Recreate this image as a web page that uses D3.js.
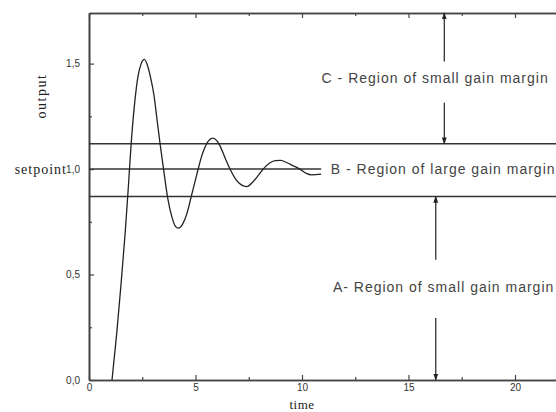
<!DOCTYPE html>
<html>
<body style="margin:0;background:white">

<style>
    body { margin:0; background:white; }
    #view { display:block; width:556px; height:412px; }
    .tick text { fill:#333; }
    .serif { font-family:"Liberation Serif", "DejaVu Serif", serif; fill:#222; }
    .note { font-family:"Liberation Sans", Arial, sans-serif; fill:#444; font-size:14px; letter-spacing:1px; }
</style>

<svg id='view'></svg>

<script src='https://cdnjs.cloudflare.com/ajax/libs/d3/7.8.5/d3.min.js'></script>

<script>
    // step response
    const timeVals = [1.08, 1.3, 1.5, 1.7, 1.85, 2.0, 2.15, 2.3, 2.45, 2.6, 2.75, 2.9, 3.05, 3.2, 3.35, 3.5,
        3.7, 3.9, 4.05, 4.2, 4.4, 4.6, 4.8, 5.0, 5.15, 5.3, 5.45, 5.6, 5.81, 6.0, 6.15, 6.4, 6.62, 6.9,
        7.15, 7.4, 7.7, 7.95, 8.18, 8.5, 8.75, 9.0, 9.3, 9.6, 9.9, 10.2, 10.45, 10.9];
    const outputVals = [0, 0.22, 0.45, 0.70, 0.92, 1.15, 1.32, 1.44, 1.50, 1.52, 1.49, 1.43, 1.35, 1.23, 1.11, 1.0,
        0.86, 0.77, 0.73, 0.72, 0.74, 0.79, 0.87, 0.95, 1.01, 1.065, 1.105, 1.133, 1.147, 1.135, 1.11, 1.05, 1.0, 0.95,
        0.925, 0.917, 0.94, 0.97, 1.0, 1.03, 1.04, 1.041, 1.03, 1.015, 1.0, 0.98, 0.973, 0.976];

    const xTicks = [0, 5, 10, 15, 20];
    const xMinor = [2.5, 7.5, 12.5, 17.5, 22.5];
    const yTicks = [0, 0.5, 1.0, 1.5];
    const yMinor = [0.25, 0.75, 1.25];

    // band limits: upper, setpoint, lower
    const bandVals = [1.12, 1.0, 0.87];
    const setpointEnd = 10.9;

    const regionLabels = ['C - Region of small gain margin', 'B - Region of large gain margin', 'A- Region of small gain margin'];
    const labelX = [10.92, 11.35, 11.45];
    const labelY = [1.43, 1.0, 0.44];

    // arrows: [x, from, to]
    const arrowSegs = [
        [16.68, 1.51, 1.74],
        [16.68, 1.315, 1.12],
        [16.28, 0.57, 0.87],
        [16.28, 0.294, 0]
    ];

    const svg = d3.select('#view');
    const x = d3.scaleLinear().domain([0, 22.5]).range([89, 89 + 22.5*21.3]);
    const y = d3.scaleLinear().domain([0, 1.74]).range([380, 13]);
    const fmt = d => d3.format('.1f')(d).replace('.', ',');

    const defs = svg.append('defs');
    defs.append('marker')
        .attr('id', 'head')
        .attr('viewBox', '0 0 10 10')
        .attr('refX', 9).attr('refY', 5)
        .attr('markerWidth', 7).attr('markerHeight', 7)
        .attr('markerUnits', 'userSpaceOnUse')
        .attr('orient', 'auto')
        .append('path').attr('d', 'M0,1.5L10,5L0,8.5Z').attr('fill', '#222');

    // axes
    const ax = svg.append('g').attr('font-family', '"Liberation Sans", Arial, sans-serif').attr('font-size', 9);

    ax.append('g').attr('transform', 'translate(0,380)')
        .call(d3.axisBottom(x).tickValues(xTicks).tickSize(-5).tickSizeOuter(0).tickPadding(4));
    ax.append('g').attr('transform', 'translate(0,380)')
        .call(d3.axisBottom(x).tickValues(xMinor).tickSize(-3).tickSizeOuter(0).tickFormat(''));
    ax.append('g').attr('transform', `translate(0,${y(1.74)})`)
        .call(d3.axisTop(x).tickValues(xTicks).tickSize(-5).tickSizeOuter(0).tickFormat(''));
    ax.append('g').attr('transform', `translate(0,${y(1.74)})`)
        .call(d3.axisTop(x).tickValues(xMinor).tickSize(-3).tickSizeOuter(0).tickFormat(''));
    ax.append('g').attr('transform', 'translate(89,0)')
        .call(d3.axisLeft(y).tickValues(yTicks).tickSize(-5).tickSizeOuter(0).tickPadding(9).tickFormat(fmt));
    ax.append('g').attr('transform', 'translate(89,0)')
        .call(d3.axisLeft(y).tickValues(yMinor).tickSize(-3).tickSizeOuter(0).tickFormat(''));

    ax.selectAll('.domain').attr('stroke', '#444').attr('stroke-width', 1.6);
    ax.selectAll('.tick line').attr('stroke', '#444').attr('stroke-width', 1.2);

    // band lines
    svg.append('g').selectAll('line')
        .data(bandVals)
        .join('line')
        .attr('x1', x(0))
        .attr('x2', (d, i) => i === 1 ? x(setpointEnd) : x(22.5))
        .attr('y1', d => y(d)).attr('y2', d => y(d))
        .attr('stroke', '#333').attr('stroke-width', 1.5);

    // response curve
    const pts = timeVals.map((t, i) => [t, outputVals[i]]);
    svg.append('path')
        .datum(pts)
        .attr('d', d3.line().x(d => x(d[0])).y(d => y(d[1])).curve(d3.curveMonotoneX))
        .attr('fill', 'none').attr('stroke', '#222').attr('stroke-width', 1.3);

    // arrows
    svg.append('g').selectAll('line')
        .data(arrowSegs)
        .join('line')
        .attr('x1', d => x(d[0])).attr('x2', d => x(d[0]))
        .attr('y1', d => y(d[1])).attr('y2', d => y(d[2]))
        .attr('stroke', '#222').attr('stroke-width', 1.2)
        .attr('marker-end', 'url(#head)');

    // region notes
    svg.append('g').selectAll('text')
        .data(regionLabels)
        .join('text')
        .attr('class', 'note')
        .attr('x', (d, i) => x(labelX[i]))
        .attr('y', (d, i) => y(labelY[i]))
        .attr('dy', '0.35em')
        .text(d => d);

    // axis titles
    svg.append('text').attr('class', 'serif')
        .attr('transform', 'translate(41,96) rotate(-90)')
        .attr('text-anchor', 'middle').attr('dy', '0.35em')
        .attr('font-size', 14).attr('letter-spacing', 1.5)
        .text('output');
    svg.append('text').attr('class', 'serif')
        .attr('x', x(10)).attr('y', 404)
        .attr('text-anchor', 'middle').attr('dy', '0.35em')
        .attr('font-size', 13).attr('letter-spacing', 0.5)
        .text('time');
    svg.append('text').attr('class', 'serif')
        .attr('x', 67).attr('y', y(1.0))
        .attr('text-anchor', 'end').attr('dy', '0.35em')
        .attr('font-size', 14).attr('letter-spacing', 1)
        .text('setpoint');
</script>

</body>
</html>
